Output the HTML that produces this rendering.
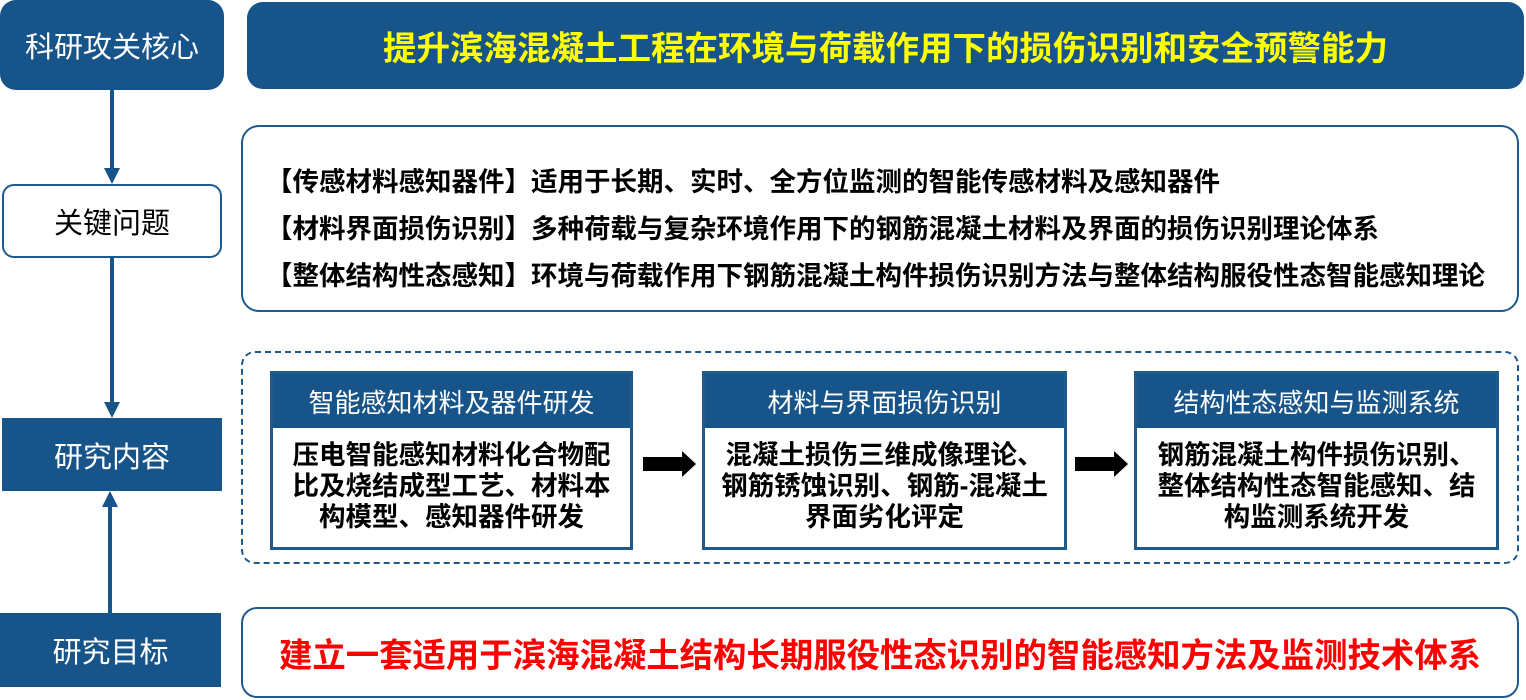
<!DOCTYPE html>
<html><head><meta charset="utf-8"><style>
body{margin:0;width:1526px;height:700px;background:#fff;position:relative;overflow:hidden;font-family:"Liberation Sans","Noto Sans CJK SC",sans-serif;font-weight:bold}
div{position:absolute;box-sizing:border-box}
.dk{background:#175489;color:#fff;display:flex;align-items:center;justify-content:center;font-size:29px}
.wt{background:#fff;border:2px solid #1f5a8f;display:flex;align-items:center;justify-content:center}
.ln{background:#175489;width:4px}
.inner{border:3px solid #1f5a8f;background:#fff}
.ih{left:0;right:0;top:0;height:54px;background:#175489;color:#fff;font-size:26px;display:flex;align-items:center;justify-content:center;font-weight:normal;white-space:nowrap}
.ib{left:-10px;right:-10px;top:54px;bottom:0;font-size:26.5px;text-align:center;line-height:31px;padding-top:12px;color:#000;white-space:nowrap}
</style></head><body>
<div class="dk" style="left:0;top:0;width:224px;height:90px;border-radius:16px;font-weight:normal">科研攻关核心</div>
<div class="dk" style="left:247px;top:2px;width:1277px;height:87px;border-radius:16px;color:#ffff00;font-size:33.5px;white-space:nowrap">提升滨海混凝土工程在环境与荷载作用下的损伤识别和安全预警能力</div>

<div class="ln" style="left:110px;top:89px;height:80px"></div>
<div style="left:104px;top:168px;border-left:8px solid transparent;border-right:8px solid transparent;border-top:16px solid #175489"></div>
<div class="wt" style="left:2px;top:184px;width:220px;height:74px;border-radius:12px;font-size:29px;font-weight:normal">关键问题</div>
<div class="ln" style="left:110px;top:257px;height:146px"></div>
<div style="left:104px;top:402px;border-left:8px solid transparent;border-right:8px solid transparent;border-top:16px solid #175489"></div>
<div class="dk" style="left:2px;top:418px;width:220px;height:73px;font-weight:normal">研究内容</div>
<div style="left:102px;top:491px;border-left:8px solid transparent;border-right:8px solid transparent;border-bottom:16px solid #175489"></div>
<div class="ln" style="left:108px;top:506px;height:108px"></div>
<div class="dk" style="left:0;top:613px;width:221px;height:74px;font-weight:normal">研究目标</div>

<div style="left:241px;top:125px;width:1278px;height:187px;border:2px solid #1f5a8f;border-radius:18px;font-size:26.5px;color:#000">
<div style="left:23px;top:33px;white-space:nowrap">【传感材料感知器件】适用于长期、实时、全方位监测的智能传感材料及感知器件</div>
<div style="left:23px;top:80px;white-space:nowrap">【材料界面损伤识别】多种荷载与复杂环境作用下的钢筋混凝土材料及界面的损伤识别理论体系</div>
<div style="left:23px;top:127px;white-space:nowrap">【整体结构性态感知】环境与荷载作用下钢筋混凝土构件损伤识别方法与整体结构服役性态智能感知理论</div>
</div>

<div style="left:241px;top:351px;width:1278px;height:213px;border:2px dashed #1f5a8f;border-radius:14px"></div>
<div class="inner" style="left:270px;top:371px;width:363px;height:179px"><div class="ih">智能感知材料及器件研发</div><div class="ib">压电智能感知材料化合物配<br>比及烧结成型工艺、材料本<br>构模型、感知器件研发</div></div>
<div class="inner" style="left:702px;top:371px;width:365px;height:179px"><div class="ih">材料与界面损伤识别</div><div class="ib">混凝土损伤三维成像理论、<br>钢筋锈蚀识别、钢筋-混凝土<br>界面劣化评定</div></div>
<div class="inner" style="left:1134px;top:371px;width:365px;height:179px"><div class="ih">结构性态感知与监测系统</div><div class="ib">钢筋混凝土构件损伤识别、<br>整体结构性态智能感知、结<br>构监测系统开发</div></div>
<div style="left:643px;top:457px;width:40px;height:14px;background:#000"></div>
<div style="left:682px;top:451px;border-top:13px solid transparent;border-bottom:13px solid transparent;border-left:14px solid #000"></div>
<div style="left:1075px;top:457px;width:40px;height:14px;background:#000"></div>
<div style="left:1114px;top:451px;border-top:13px solid transparent;border-bottom:13px solid transparent;border-left:14px solid #000"></div>

<div style="left:241px;top:607px;width:1278px;height:91px;border:2px solid #1f5a8f;border-radius:16px;color:#ff0000;font-size:33.4px;display:flex;align-items:center;justify-content:center;white-space:nowrap">建立一套适用于滨海混凝土结构长期服役性态识别的智能感知方法及监测技术体系</div>
</body></html>
